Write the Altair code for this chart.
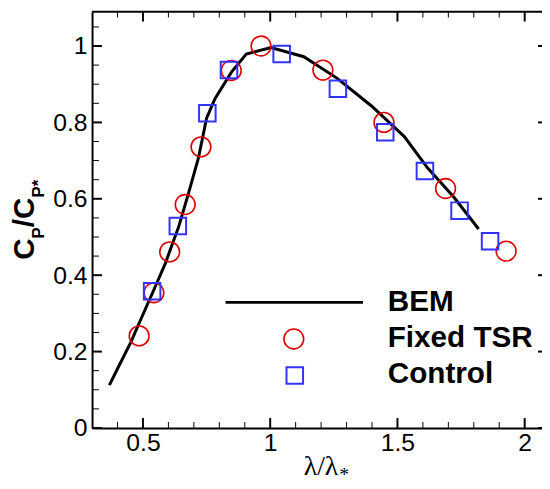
import altair as alt
import pandas as pd

# ---------------- data ----------------
bem_x = [0.368, 0.40, 0.452, 0.50, 0.549, 0.588, 0.614, 0.640, 0.68, 0.718, 0.750,
         0.783, 0.847, 0.906, 1.003, 1.132, 1.262, 1.398, 1.527, 1.618, 1.722, 1.819]
bem_y = [0.112, 0.155, 0.224, 0.297, 0.371, 0.431, 0.479, 0.526, 0.617, 0.707, 0.811,
         0.862, 0.931, 0.979, 0.996, 0.972, 0.916, 0.843, 0.763, 0.681, 0.604, 0.521]

fixed_x = [0.485, 0.543, 0.605, 0.666, 0.728, 0.847, 0.964, 1.207, 1.447, 1.689, 1.927]
fixed_y = [0.241, 0.354, 0.461, 0.585, 0.736, 0.936, 1.000, 0.937, 0.800, 0.627, 0.463]

ctrl_x = [0.536, 0.637, 0.753, 0.838, 1.045, 1.266, 1.452, 1.608, 1.744, 1.864]
ctrl_y = [0.358, 0.529, 0.824, 0.937, 0.979, 0.888, 0.774, 0.673, 0.569, 0.489]

legend_labels = ["BEM", "Fixed TSR", "Control"]

x_major = [0.5, 1.0, 1.5, 2.0]
x_minor = [0.4, 0.6, 0.7, 0.8, 0.9, 1.1, 1.2, 1.3, 1.4, 1.6, 1.7, 1.8, 1.9]
y_major = [0.0, 0.2, 0.4, 0.6, 0.8, 1.0]
y_minor = [0.05, 0.1, 0.15, 0.25, 0.3, 0.35, 0.45, 0.5, 0.55, 0.65, 0.7, 0.75,
           0.85, 0.9, 0.95, 1.05]

# ---------------- layout / style ----------------
W, H = 455, 421
RED = "#dd0000"
BLUE = "#3333ff"
SANS = "Liberation Sans"
SERIF = "Liberation Serif"

xs = alt.Scale(domain=[0.3, 2.068], nice=False, zero=False)
ys = alt.Scale(domain=[0.0, 1.09], nice=False, zero=False)

bem_df = pd.DataFrame({"x": bem_x, "y": bem_y})
fixed_df = pd.DataFrame({"x": fixed_x, "y": fixed_y})
ctrl_df = pd.DataFrame({"x": ctrl_x, "y": ctrl_y})
one = pd.DataFrame({"k": [0]})

axis_x = alt.Axis(values=x_major, format="~g", title=None, ticks=False, tickSize=0,
                  grid=False, domainWidth=2, domainColor="black",
                  labelFont=SANS, labelFontSize=25, labelColor="black",
                  labelPadding=3, labelFlush=False)
axis_y = alt.Axis(values=y_major, format="~g", title=None, ticks=False, tickSize=0,
                  grid=False, domainWidth=2, domainColor="black",
                  labelFont=SANS, labelFontSize=25, labelColor="black",
                  labelPadding=5)


def X(field):
    return alt.X(field, type="quantitative", scale=xs, axis=axis_x)


def Y(field):
    return alt.Y(field, type="quantitative", scale=ys, axis=axis_y)


line = alt.Chart(bem_df).mark_line(color="black", strokeWidth=3).encode(
    x=X("x"), y=Y("y"))
circles = alt.Chart(fixed_df).mark_point(
    shape="circle", size=400, filled=False, color=RED, strokeWidth=1.6, opacity=1
).encode(x=X("x"), y=Y("y"))
squares = alt.Chart(ctrl_df).mark_point(
    shape="square", size=280, filled=False, color=BLUE, strokeWidth=2, opacity=1
).encode(x=X("x"), y=Y("y"))


def xticks(vals, y0, y1, w):
    return alt.Chart(pd.DataFrame({"x": vals})).mark_rule(color="black", strokeWidth=w).encode(
        x=X("x"), y=alt.value(y0), y2=alt.value(y1))


def yticks(vals, x0, x1, w):
    return alt.Chart(pd.DataFrame({"y": vals})).mark_rule(color="black", strokeWidth=w).encode(
        y=Y("y"), x=alt.value(x0), x2=alt.value(x1))


ticks = [
    xticks(x_major, H, H - 10, 2), xticks(x_minor, H, H - 6, 1),
    xticks(x_major, 0, 10, 2), xticks(x_minor, 0, 6, 1),
    yticks(y_major, 0, 10, 2), yticks(y_minor, 0, 7, 1),
    yticks(y_major, W - 4, W, 2),
]

top_border = alt.Chart(one).mark_rule(color="black", strokeWidth=2).encode(
    x=alt.value(0), x2=alt.value(W), y=alt.value(0))

# ---------------- legend (inside plot) ----------------
leg_line = alt.Chart(one).mark_rule(color="black", strokeWidth=3).encode(
    x=alt.value(135), x2=alt.value(274), y=alt.value(294))
leg_circle = alt.Chart(one).mark_point(
    shape="circle", size=400, filled=False, color=RED, strokeWidth=1.6, opacity=1
).encode(x=alt.value(204), y=alt.value(331))
leg_square = alt.Chart(one).mark_point(
    shape="square", size=280, filled=False, color=BLUE, strokeWidth=2, opacity=1
).encode(x=alt.value(205), y=alt.value(368))


def label(txt, x, y, size, weight="bold", font=SANS, angle=0, align="left"):
    return alt.Chart(one).mark_text(
        align=align, baseline="alphabetic", font=font, fontSize=size,
        fontWeight=weight, angle=angle, color="black"
    ).encode(x=alt.value(x), y=alt.value(y), text=alt.value(txt))


leg_texts = [
    label(legend_labels[0], 299, 303, 30),
    label(legend_labels[1], 299, 339, 30),
    label(legend_labels[2], 299, 376, 30),
]

# ---------------- axis titles (composed for sub-scripts) ----------------
y_title = [
    label("C", -59, 251, 30, angle=270),
    label("P", -49, 229.3, 17, angle=270),
    label("/", -59, 218, 30, angle=270),
    label("C", -59, 209.7, 30, angle=270),
    label("P*", -49, 188, 17, angle=270),
]
x_title = [
    label("λ/λ", 249, 469, 28, weight="normal", font=SERIF, align="right"),
    label("*", 250, 475, 20, weight="normal", font=SERIF),
]

chart = alt.layer(
    line, *ticks, circles, squares, top_border,
    leg_line, leg_circle, leg_square, *leg_texts, *y_title, *x_title
).properties(
    width=W, height=H,
    autosize=alt.AutoSizeParams(type="none"),
    padding={"left": 85, "top": 1, "right": 0, "bottom": 56},
).configure_view(stroke=None)

chart.save("out.html", embed_options={"renderer": "svg", "actions": False})
